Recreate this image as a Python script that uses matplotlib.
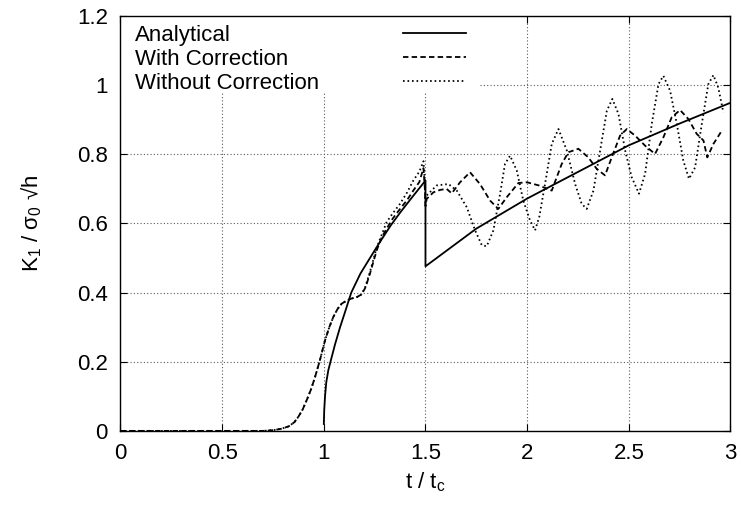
import matplotlib
matplotlib.use("Agg")
import matplotlib.pyplot as plt
from matplotlib.patches import Rectangle

plt.rcParams["font.family"] = ["Liberation Sans", "DejaVu Sans"]
plt.rcParams["mathtext.fontset"] = "custom"
plt.rcParams["mathtext.rm"] = "Liberation Sans"
plt.rcParams["mathtext.default"] = "regular"
plt.rcParams["font.size"] = 16

# Analytical solution
t_analytical = [1.0, 1.002, 1.006, 1.012, 1.022, 1.035, 1.055, 1.08, 1.105, 1.135,
                1.18, 1.227, 1.28, 1.33, 1.38, 1.44, 1.5, 1.5, 1.75, 2.0, 2.25,
                2.5, 2.75, 3.0]
k_analytical = [0.02, 0.06, 0.10, 0.14, 0.175, 0.205, 0.25, 0.30, 0.345, 0.40,
                0.455, 0.50, 0.55, 0.595, 0.635, 0.68, 0.724, 0.476, 0.585, 0.672,
                0.749, 0.826, 0.889, 0.949]

# Numerical, with correction
t_with = [0.0, 0.70, 0.75, 0.79, 0.827, 0.855, 0.875, 0.896, 0.916, 0.937, 0.957,
          0.981, 1.006, 1.027, 1.047, 1.068, 1.088, 1.113, 1.137, 1.16, 1.186,
          1.205, 1.227, 1.26, 1.285, 1.309, 1.34, 1.375, 1.41, 1.44, 1.47, 1.49,
          1.497, 1.5, 1.506, 1.539, 1.572, 1.604, 1.629, 1.67, 1.719, 1.768,
          1.818, 1.858, 1.9, 1.957, 2.0, 2.057, 2.121, 2.17, 2.203, 2.252, 2.301,
          2.342, 2.383, 2.416, 2.457, 2.49, 2.531, 2.58, 2.629, 2.67, 2.711,
          2.752, 2.793, 2.834, 2.867, 2.886, 2.916, 2.957]
k_with = [0.0, 0.0, 0.002, 0.006, 0.013, 0.025, 0.041, 0.062, 0.089, 0.12, 0.156,
          0.205, 0.262, 0.30, 0.33, 0.353, 0.368, 0.377, 0.383, 0.386, 0.395,
          0.415, 0.455, 0.522, 0.56, 0.585, 0.615, 0.642, 0.668, 0.695, 0.72, 0.76,
          0.70, 0.65, 0.671, 0.69, 0.697, 0.700, 0.687, 0.719, 0.748, 0.714,
          0.666, 0.642, 0.676, 0.717, 0.719, 0.71, 0.695, 0.772, 0.806, 0.816, 0.791,
          0.758, 0.739, 0.791, 0.854, 0.873, 0.854, 0.825, 0.801, 0.849, 0.907,
          0.928, 0.902, 0.859, 0.84, 0.791, 0.83, 0.868]

# Numerical, without correction
t_without = [0.0, 0.70, 0.75, 0.79, 0.827, 0.855, 0.875, 0.896, 0.916, 0.937, 0.957,
             0.981, 1.006, 1.027, 1.047, 1.068, 1.088, 1.113, 1.137, 1.16, 1.186,
             1.205, 1.227, 1.26, 1.309, 1.34, 1.375, 1.41, 1.44, 1.47, 1.49,
             1.497, 1.5, 1.506, 1.555, 1.613, 1.654, 1.703, 1.744, 1.777, 1.801,
             1.834, 1.867, 1.891, 1.916, 1.949, 1.981, 2.014, 2.039, 2.06, 2.088,
             2.121, 2.154, 2.195, 2.236, 2.268, 2.293, 2.326, 2.359, 2.392, 2.419,
             2.449, 2.482, 2.514, 2.55, 2.58, 2.613, 2.646, 2.67, 2.703, 2.736,
             2.768, 2.796, 2.826, 2.859, 2.891, 2.916, 2.94, 2.965]
k_without = [0.0, 0.0, 0.002, 0.006, 0.013, 0.025, 0.041, 0.062, 0.089, 0.12, 0.156,
             0.205, 0.262, 0.30, 0.33, 0.353, 0.368, 0.377, 0.383, 0.386, 0.395,
             0.418, 0.46, 0.53, 0.604, 0.63, 0.657, 0.69, 0.724, 0.75, 0.78,
             0.72, 0.66, 0.681, 0.71, 0.714, 0.695, 0.647, 0.58, 0.537, 0.534,
             0.58, 0.686, 0.772, 0.796, 0.753, 0.666, 0.609, 0.58, 0.62, 0.714,
             0.83, 0.873, 0.811, 0.714, 0.657, 0.642, 0.695, 0.811, 0.926, 0.96,
             0.917, 0.811, 0.734, 0.686, 0.743, 0.888, 1.003, 1.027, 0.984, 0.888,
             0.782, 0.729, 0.762, 0.888, 1.003, 1.029, 0.993, 0.921]

x_ticks = [0, 0.5, 1, 1.5, 2, 2.5, 3]
y_ticks = [0, 0.2, 0.4, 0.6, 0.8, 1.0, 1.2]
x_labels = ["0", "0.5", "1", "1.5", "2", "2.5", "3"]
y_labels = ["0", "0.2", "0.4", "0.6", "0.8", "1", "1.2"]

series = [
    (t_analytical, k_analytical, "Analytical", "-"),
    (t_with, k_with, "With Correction", (0, (3.0, 1.8))),
    (t_without, k_without, "Without Correction", (0, (0.9, 1.6))),
]

fig = plt.figure(figsize=(7.41, 5.08), dpi=100)
ax = fig.add_axes([0.1626, 0.1518, 0.8232, 0.8167])

for t, k, name, style in series:
    ax.plot(t, k, color="black", lw=1.3, ls=style, label=name)

ax.set_xlim(0, 3)
ax.set_ylim(0, 1.2)
ax.set_xticks(x_ticks)
ax.set_xticklabels(x_labels)
ax.set_yticks(y_ticks)
ax.set_yticklabels(y_labels)
ax.tick_params(direction="in", length=5, width=0.8, top=True, right=True, pad=9,
               labelsize=16)
ax.grid(True, color="0.35", ls=(0, (1, 2)), lw=0.8)
for sp in ax.spines.values():
    sp.set_linewidth(1.0)
    sp.set_zorder(5)

ax.set_xlabel("t / t$_c$", fontsize=16, labelpad=4)
ax.set_ylabel("K$_1$ / σ$_0$ √h", fontsize=16, labelpad=24)

# gnuplot-style key: text on the left, sample line on the right,
# white box hiding the grid behind it
ax.add_patch(Rectangle((0, 0.8145), 0.589, 0.1855, transform=ax.transAxes,
                       facecolor="white", edgecolor="none", zorder=3))
for i, (_, _, name, style) in enumerate(series):
    yb = 0.9398 - i * 0.0578
    ax.text(0.0238, yb, name, transform=ax.transAxes, ha="left",
            va="baseline", fontsize=16, zorder=4)
    ax.plot([0.463, 0.567], [yb + 0.019, yb + 0.019], transform=ax.transAxes,
            color="black", lw=1.3, ls=style, zorder=4)

fig.savefig("out.png", dpi=100)
